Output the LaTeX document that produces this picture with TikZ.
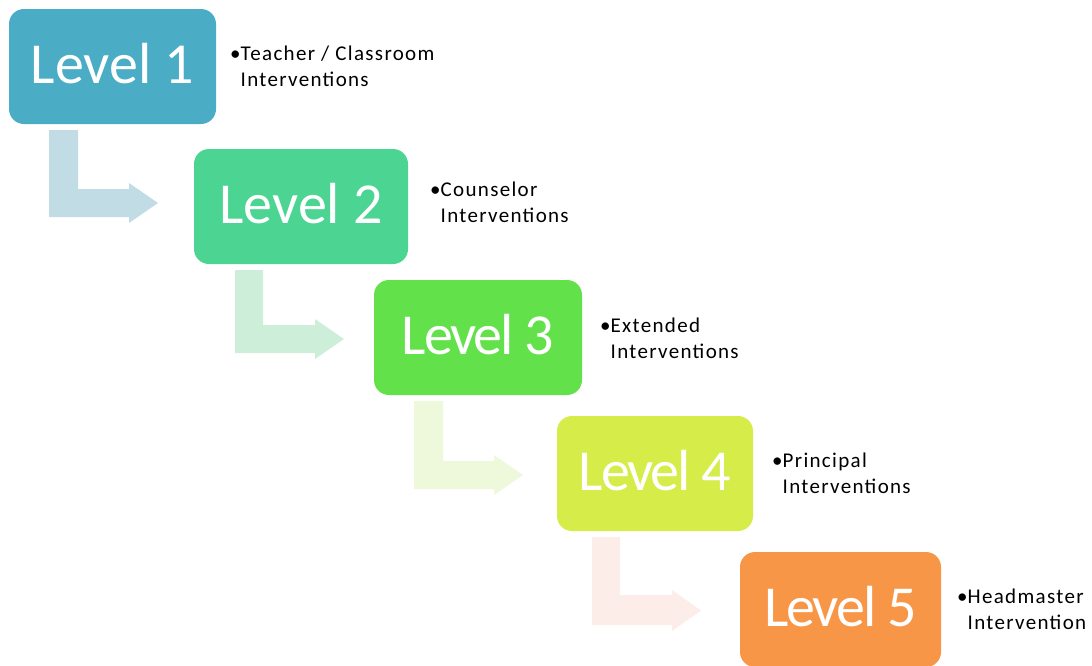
\documentclass[tikz,border=0pt]{standalone}
\usepackage{fontspec}
\setmainfont{Carlito}
\newfontfamily\sidefont[LetterSpace=6.3]{Carlito}
\newfontfamily\tightfont[LetterSpace=-3.8]{Carlito}
\definecolor{cA}{HTML}{4BACC6}
\definecolor{cB}{HTML}{4BD492}
\definecolor{cC}{HTML}{62E14B}
\definecolor{cD}{HTML}{D5EC49}
\definecolor{cE}{HTML}{F79646}
\definecolor{aA}{HTML}{C1DCE4}
\definecolor{aB}{HTML}{CDEFD9}
\definecolor{aC}{HTML}{EEF8DA}
\definecolor{aD}{HTML}{FCEDE8}
\tikzset{
  levelbox/.style={rounded corners=15pt, inner sep=0pt, text=white,
    font=\fontsize{58}{60}\selectfont, text height=34pt, text depth=0pt,
    minimum height=115pt},
  tightbox/.style={levelbox, font=\tightfont\fontsize{58}{60}\selectfont},
  sidetext/.style={anchor=base west, inner sep=0pt, font=\sidefont\fontsize{21}{26}\selectfont},
}
% bent arrow: #1 colour, #2 x0, #3 x1, #4 ytop, #5 bar top, #6 bar bottom, #7 head x, #8 head top, #9 head bottom
\newcommand{\bentarr}[9]{%
  \fill[#1] (#2,#4) -- (#3,#4) -- (#3,#5) -- (#7,#5) -- (#7,#8)
    -- ({#7+29},{(#8+#9)/2}) -- (#7,#9) -- (#7,#6) -- (#2,#6) -- cycle;}
\newcommand{\sidelabel}[2]{\begin{tabular}[t]{@{}l@{}l@{}}\textbullet&#1\\&#2\end{tabular}}
\begin{document}
\begin{tikzpicture}[x=1pt,y=-1pt]
\useasboundingbox (0,0) rectangle (1092,665);
\clip (0,0) rectangle (1092,665);
% arrows
\bentarr{aA}{49}{78}{130}{189}{217}{129}{183}{223}
\bentarr{aB}{235}{263}{270}{325}{353}{315}{319}{359}
\bentarr{aC}{414}{443}{401}{461}{489}{494}{455}{495}
\bentarr{aD}{592}{620}{537}{595}{625}{672}{590}{631}
% boxes
\node[levelbox, fill=cA, minimum width=207pt] (b1) at (112.5,66.5) {Level 1};
\node[levelbox, fill=cB, minimum width=214pt] (b2) at (301,206.5) {Level 2};
\node[tightbox, fill=cC, minimum width=208pt] (b3) at (478,337.5) {Level 3};
\node[tightbox, fill=cD, minimum width=196pt] (b4) at (655,473.5) {Level 4};
\node[tightbox, fill=cE, minimum width=201pt] (b5) at (840.5,609.5) {Level 5};
% side texts
\node[sidetext] (t1) at (230,60) {\sidelabel{Teacher / Classroom}{Interventions}};
\node[sidetext] (t2) at (430,196) {\sidelabel{Counselor}{Interventions}};
\node[sidetext] (t3) at (600,332) {\sidelabel{Extended}{Interventions}};
\node[sidetext] (t4) at (772,467) {\sidelabel{Principal}{Interventions}};
\node[sidetext] (t5) at (957,603) {\sidelabel{Headmaster}{Intervention}};
\end{tikzpicture}
\end{document}
